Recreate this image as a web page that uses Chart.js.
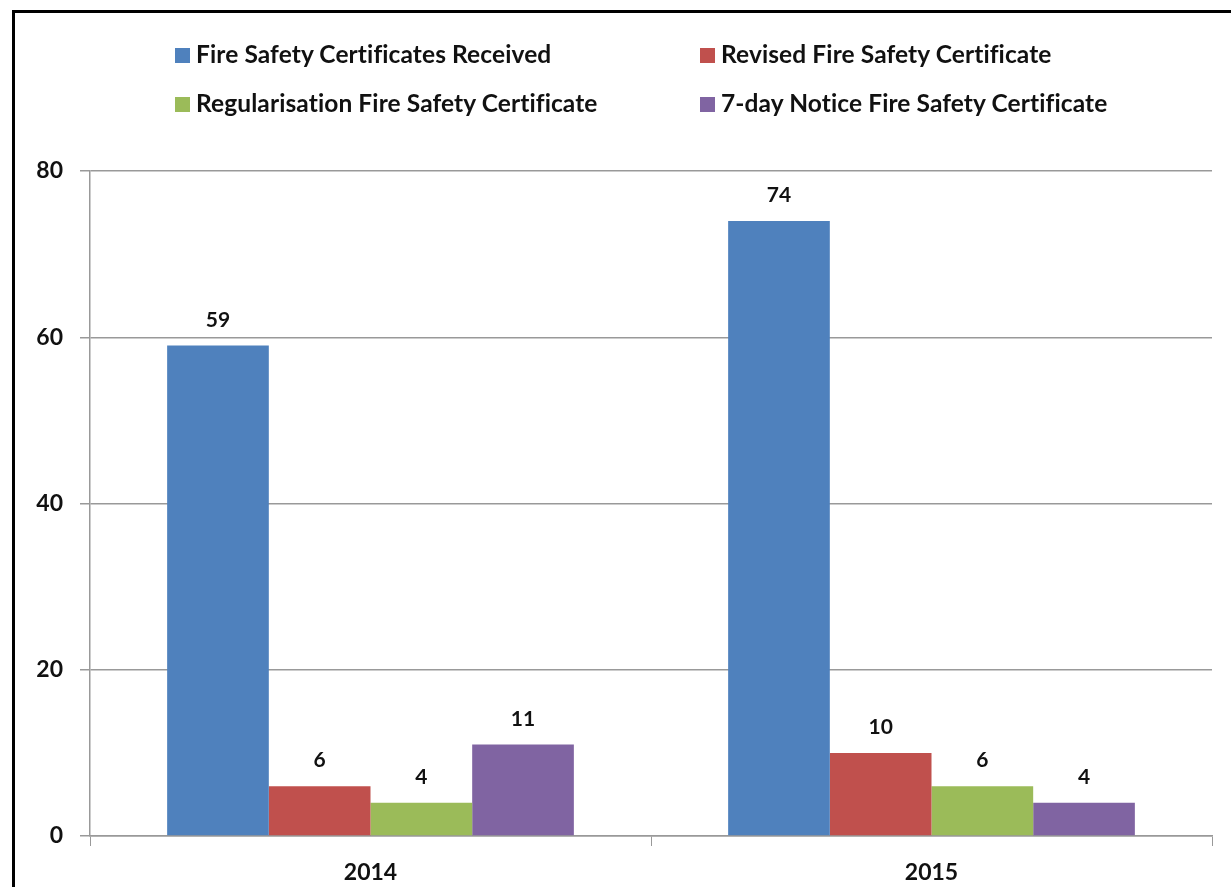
<!DOCTYPE html>
<html>
<head>
<meta charset="utf-8">
<script src="https://cdn.jsdelivr.net/npm/chart.js@4"></script>
<style>
  html, body { margin: 0; padding: 0; background: #fff; overflow: hidden; }
  body { width: 1231px; height: 887px; position: relative; font-family: Lato, sans-serif; }
  #frame { position: absolute; left: 12px; top: 10px; width: 1300px; height: 1000px; border: 3px solid #000; box-sizing: border-box; }
  #chartWrap { position: absolute; left: 0; top: 0; width: 1231px; height: 887px; }
  #legend { position: absolute; left: 175px; top: 36px; display: grid; grid-template-columns: 525px 500px; row-gap: 15px; }
  .item { display: flex; align-items: center; height: 34px; font-weight: bold; font-size: 24.5px; letter-spacing: 0.1px; color: #111; white-space: nowrap; }
  .box { width: 15px; height: 15px; margin-right: 6px; margin-top: 4px; }
</style>
</head>
<body>
<div id="frame"></div>
<div id="chartWrap"><canvas id="barChart" width="1231" height="887"></canvas></div>
<div id="legend"></div>
<script>
const years = ['2014', '2015'];
const seriesNames = [
  'Fire Safety Certificates Received',
  'Revised Fire Safety Certificate',
  'Regularisation Fire Safety Certificate',
  '7-day Notice Fire Safety Certificate'
];
const received = [59, 74];
const revised = [6, 10];
const regularisation = [4, 6];
const sevenDay = [11, 4];
const yTicks = [0, 20, 40, 60, 80];
const colors = ['#4F81BD', '#C0504D', '#9BBB59', '#8064A2'];

document.addEventListener('DOMContentLoaded', () => {
  const ctx = document.getElementById('barChart');
  const values = [received, revised, regularisation, sevenDay];

  // numbers above each bar
  const barLabels = {
    id: 'barLabels',
    afterDatasetsDraw(chart) {
      const c = chart.ctx;
      c.save();
      c.font = 'bold 21px Lato';
      c.fillStyle = '#111';
      c.textAlign = 'center';
      c.textBaseline = 'bottom';
      chart.data.datasets.forEach((ds, i) => {
        chart.getDatasetMeta(i).data.forEach((bar, j) => {
          c.fillText(ds.data[j], bar.x, bar.y - 15);
        });
      });
      c.restore();
    }
  };

  const chart = new Chart(ctx, {
    type: 'bar',
    data: {
      labels: years,
      datasets: seriesNames.map((name, i) => ({
        label: name,
        data: values[i],
        backgroundColor: colors[i],
        borderWidth: 0
      }))
    },
    options: {
      responsive: false,
      animation: false,
      layout: { padding: { top: 171, right: 19, left: 0, bottom: 0 } },
      plugins: { legend: { display: false }, tooltip: { enabled: false } },
      datasets: { bar: { categoryPercentage: 0.725, barPercentage: 1 } },
      scales: {
        x: {
          grid: { offset: true, drawOnChartArea: false, drawTicks: true, tickLength: 10, color: '#999' },
          border: { color: '#999', width: 1.5 },
          ticks: { color: '#111', font: { family: 'Lato', weight: 'bold', size: 23 }, padding: 13 },
          afterFit(scale) { scale.height = 51; }
        },
        y: {
          min: 0,
          max: 80,
          afterBuildTicks(scale) { scale.ticks = yTicks.map(v => ({ value: v })); },
          grid: { color: '#999', lineWidth: 1.5, tickLength: 10 },
          border: { color: '#999', width: 1.5 },
          ticks: { color: '#111', font: { family: 'Lato', weight: 'bold', size: 23 }, padding: 17 },
          afterFit(scale) { scale.width = 90; }
        }
      }
    },
    plugins: [barLabels]
  });

  // legend in two columns, built from the datasets
  const legend = document.getElementById('legend');
  [0, 1, 2, 3].forEach(i => {
    const ds = chart.data.datasets[i];
    const item = document.createElement('div');
    item.className = 'item';
    item.innerHTML = `<span class="box" style="background:${ds.backgroundColor}"></span>${ds.label}`;
    legend.appendChild(item);
  });
});
</script>
</body>
</html>
